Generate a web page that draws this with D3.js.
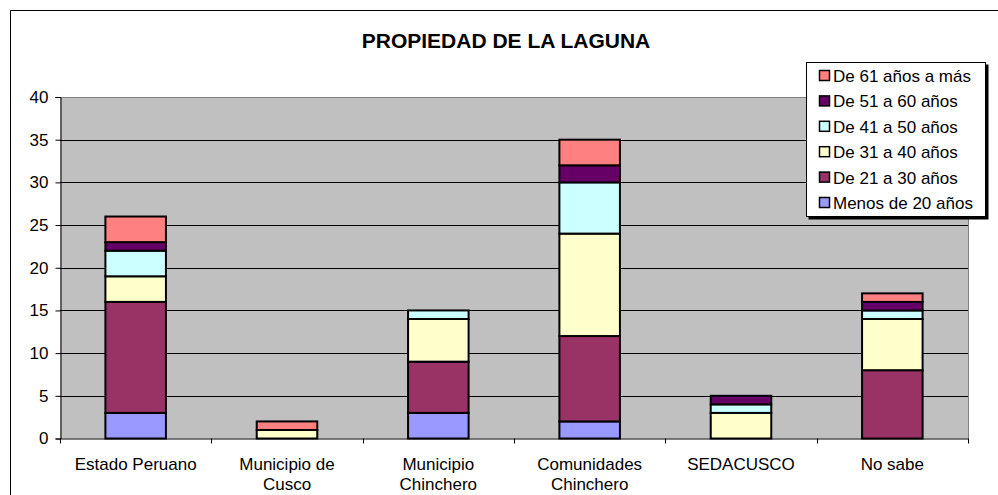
<!DOCTYPE html>
<html>
<head>
<meta charset="utf-8">
<script src="https://cdn.jsdelivr.net/npm/d3@7"></script>
<style>
  body { margin: 0; background: #fff; }
  text { font-family: "Liberation Sans", Arial, sans-serif; fill: #000; }
</style>
</head>
<body>
<script>
var width = 998, height = 495;

var categories = [
  ["Estado Peruano"],
  ["Municipio de", "Cusco"],
  ["Municipio", "Chinchero"],
  ["Comunidades", "Chinchero"],
  ["SEDACUSCO"],
  ["No sabe"]
];
var seriesNames = ["Menos de 20 años", "De 21 a 30 años", "De 31 a 40 años",
                   "De 41 a 50 años", "De 51 a 60 años", "De 61 años a más"];
var seriesColors = ["#9999FF", "#993366", "#FFFFCC", "#CCFFFF", "#660066", "#FF8080"];

var menos20 = [3, 0, 3, 2, 0, 0];
var de21a30 = [13, 0, 6, 10, 0, 8];
var de31a40 = [3, 1, 5, 12, 3, 6];
var de41a50 = [3, 0, 1, 6, 1, 1];
var de51a60 = [1, 0, 0, 2, 1, 1];
var de61mas = [3, 1, 0, 3, 0, 1];
var yTicks = [0, 5, 10, 15, 20, 25, 30, 35, 40];

var seriesValues = [menos20, de21a30, de31a40, de41a50, de51a60, de61mas];

var svg = d3.select("body").append("svg")
    .attr("width", width)
    .attr("height", height);

// outer chart border
svg.append("rect")
    .attr("x", 10.5).attr("y", 10.5)
    .attr("width", 1000).attr("height", 500)
    .attr("fill", "#fff").attr("stroke", "#000").attr("stroke-width", 1);

svg.append("text")
    .attr("x", 506).attr("y", 48)
    .attr("text-anchor", "middle")
    .style("font-size", "21px").style("font-weight", "bold")
    .text("PROPIEDAD DE LA LAGUNA");

var plotLeft = 60, plotRight = 968, plotTop = 97, plotBottom = 438.5;

var x = d3.scaleBand()
    .domain(d3.range(categories.length))
    .range([plotLeft, plotRight])
    .paddingInner(0.6).paddingOuter(0.3);

var y = d3.scaleLinear().domain([0, 40]).range([plotBottom, plotTop]);

// plot area
svg.append("rect")
    .attr("x", plotLeft).attr("y", plotTop)
    .attr("width", plotRight - plotLeft).attr("height", plotBottom - plotTop)
    .attr("fill", "#C0C0C0");

svg.append("g").selectAll("line")
    .data(yTicks.filter(function(d) { return d > 0 && d < 40; }))
    .enter().append("line")
    .attr("x1", plotLeft).attr("x2", plotRight)
    .attr("y1", function(d) { return Math.round(y(d)) + 0.5; })
    .attr("y2", function(d) { return Math.round(y(d)) + 0.5; })
    .attr("stroke", "#000").attr("stroke-width", 1);

// top and right border in gray
svg.append("path")
    .attr("d", "M" + plotLeft + "," + (plotTop + 0.5) + "H" + (plotRight + 0.5) + "V" + plotBottom)
    .attr("fill", "none").attr("stroke", "#808080").attr("stroke-width", 1);

// stacked bars
var stackData = categories.map(function(c, i) {
  var row = {i: i};
  seriesNames.forEach(function(s, k) { row[s] = seriesValues[k][i]; });
  return row;
});
var stack = d3.stack().keys(seriesNames)(stackData);

svg.append("g").selectAll("g")
    .data(stack)
    .enter().append("g")
    .attr("fill", function(d, k) { return seriesColors[k]; })
    .selectAll("rect")
    .data(function(d) { return d.filter(function(p) { return p[1] > p[0]; }); })
    .enter().append("rect")
    .attr("x", function(d) { return x(d.data.i); })
    .attr("y", function(d) { return y(d[1]); })
    .attr("width", x.bandwidth())
    .attr("height", function(d) { return y(d[0]) - y(d[1]); })
    .attr("stroke", "#000").attr("stroke-width", 2);

// y axis
var yAxis = svg.append("g")
    .attr("transform", "translate(" + (plotLeft + 0.5) + ",0)")
    .call(d3.axisLeft(y).tickValues(yTicks).tickSize(5).tickPadding(7));
yAxis.select(".domain").attr("stroke", "#000");
yAxis.selectAll("text").style("font-size", "17px").style("font-family", "Liberation Sans, Arial, sans-serif");

// x axis line and ticks between categories
var xAxis = svg.append("g");
xAxis.append("line")
    .attr("x1", plotLeft).attr("x2", plotRight + 0.5)
    .attr("y1", plotBottom + 0.5).attr("y2", plotBottom + 0.5)
    .attr("stroke", "#000");
xAxis.selectAll("line.tick")
    .data(d3.range(categories.length + 1))
    .enter().append("line")
    .attr("class", "tick")
    .attr("x1", function(d) { return Math.round(plotLeft + d * (plotRight - plotLeft) / categories.length) + 0.5; })
    .attr("x2", function(d) { return Math.round(plotLeft + d * (plotRight - plotLeft) / categories.length) + 0.5; })
    .attr("y1", plotBottom).attr("y2", plotBottom + 5)
    .attr("stroke", "#000");

xAxis.selectAll("text.cat")
    .data(categories)
    .enter().append("text")
    .attr("class", "cat")
    .attr("text-anchor", "middle")
    .style("font-size", "17px")
    .attr("x", function(d, i) { return x(i) + x.bandwidth() / 2; })
    .attr("y", 470)
    .each(function(d) {
      var t = d3.select(this);
      d.forEach(function(line, j) {
        t.append("tspan")
          .attr("x", t.attr("x"))
          .attr("dy", j === 0 ? 0 : 20)
          .text(line);
      });
    });

// legend
var legend = svg.append("g");
legend.append("rect")
    .attr("x", 808.5).attr("y", 64.5)
    .attr("width", 180).attr("height", 155)
    .attr("fill", "#000");
legend.append("rect")
    .attr("x", 806.5).attr("y", 62.5)
    .attr("width", 179).attr("height", 154)
    .attr("fill", "#fff").attr("stroke", "#000");

var legendOrder = d3.range(seriesNames.length).reverse();
var items = legend.selectAll("g.item")
    .data(legendOrder)
    .enter().append("g")
    .attr("class", "item")
    .attr("transform", function(d, j) { return "translate(0," + (76 + j * 25.4) + ")"; });
items.append("rect")
    .attr("x", 819.5).attr("y", -5.5)
    .attr("width", 10).attr("height", 10)
    .attr("fill", function(k) { return seriesColors[k]; })
    .attr("stroke", "#000").attr("stroke-width", 1.5);
items.append("text")
    .attr("x", 833).attr("y", 6)
    .style("font-size", "17px")
    .text(function(k) { return seriesNames[k]; });
</script>
</body>
</html>
